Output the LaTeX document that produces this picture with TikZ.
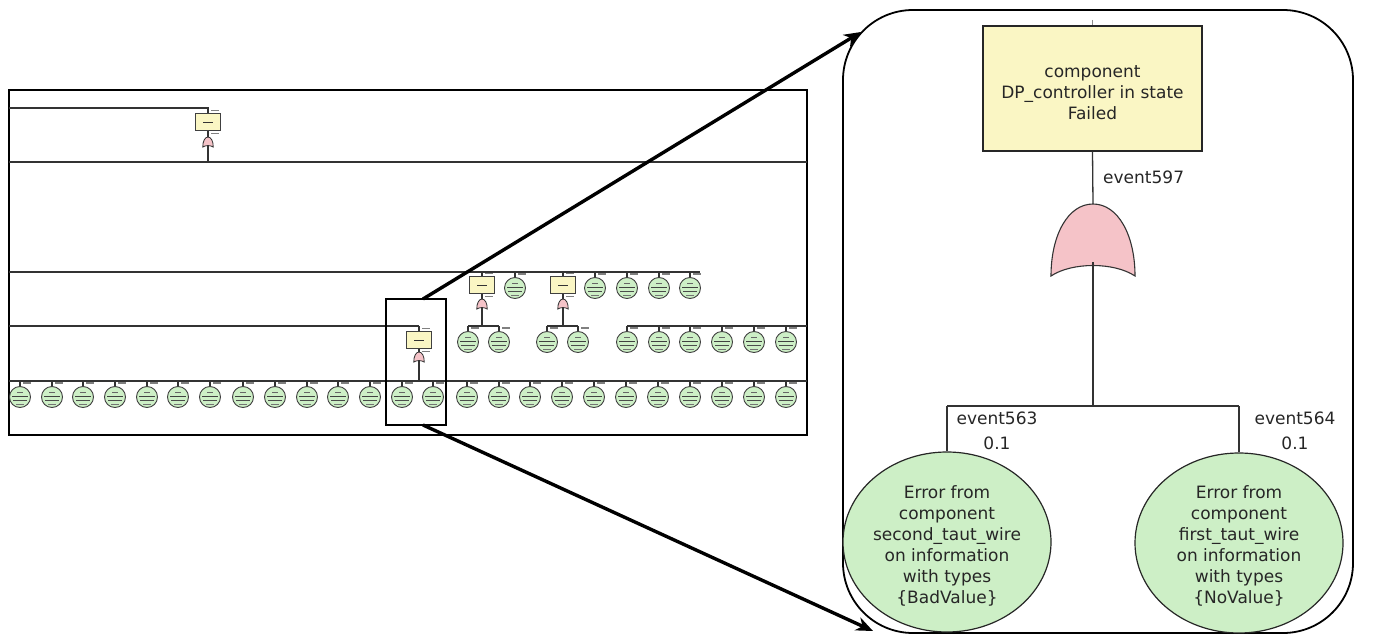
\documentclass[tikz,border=0pt]{standalone}
\usepackage{fontspec}
\setmainfont{DejaVu Sans}
\usetikzlibrary{shapes.geometric,arrows.meta,calc}

\definecolor{evgreen}{HTML}{CDEFC6}
\definecolor{topyellow}{HTML}{FAF6C4}
\definecolor{gatepink}{HTML}{F5C3C8}
\definecolor{wire}{HTML}{333333}

\tikzset{
  wireline/.style={draw=wire, line width=1.3},
  frame/.style={draw=black, line width=2.2},
  tag/.style={draw=black!50, line width=1.2},
  evsmall/.style={circle, draw=black!75, line width=0.9, fill=evgreen,
    minimum size=21pt, inner sep=0pt,
    path picture={
      \draw[black!60, line width=0.6] ($(path picture bounding box.center)+(-3,-5)$) -- ++(6,0);
      \draw[black!75, line width=0.9] ($(path picture bounding box.center)+(-8,-1)$) -- ++(16,0);
      \draw[black!70, line width=0.8] ($(path picture bounding box.center)+(-7,3)$) -- ++(14,0);
      \draw[black!55, line width=0.7] ($(path picture bounding box.center)+(-4,7)$) -- ++(8,0);
    }},
  topsmall/.style={rectangle, draw=black!75, line width=0.9, fill=topyellow,
    minimum width=25pt, minimum height=17pt, inner sep=0pt,
    path picture={
      \draw[black!80, line width=0.9] ($(path picture bounding box.center)+(-5,0)$) -- ++(10,0);
    }},
  smallgate/.style={xscale=0.125, yscale=0.14, line width=0.8},
  bigtext/.style={text=black!85, font=\fontsize{17}{21}\selectfont, align=center, inner sep=0pt},
  toptext/.style={text=black!85, font=\fontsize{17}{21}\selectfont, inner sep=0pt},
  topbig/.style={rectangle, draw=black!85, line width=1.2, fill=topyellow,
    minimum width=219pt, minimum height=125pt, inner sep=0pt},
  evbig/.style={ellipse, draw=black!85, line width=1.2, fill=evgreen,
    minimum width=208pt, minimum height=180pt, inner sep=0pt},
  zoomarrow/.style={draw=black, line width=3.4, -{Stealth[length=17pt, width=14pt]}},
  orgate/.pic={
    \filldraw[fill=gatepink, draw=black!80]
      (-42,72) .. controls (-42,31) and (-25,0) .. (0,0)
      .. controls (25,0) and (42,31) .. (42,72)
      .. controls (21,58) and (-21,58) .. (-42,72) -- cycle;
  }
}

\begin{document}
\begin{tikzpicture}[x=1pt,y=-1pt]
\useasboundingbox (0,0) rectangle (1376,634);

% ---------------- overview of the whole tree ----------------
\draw[frame] (9,90) rectangle (807,435);

% level 1: top event with its gate
\coordinate (r1a) at (9,108);
\coordinate (r1b) at (208,108);
\node[topsmall] (b1) at (208,122) {};
\coordinate (g1t) at (208,137);
\coordinate (g1b) at (208,145);
\coordinate (l2a) at (9,162);
\coordinate (l2b) at (807,162);
\coordinate (l2g) at (208,162);
\pic[smallgate] at (g1t) {orgate};
\draw[wireline] (r1a) -- (r1b) -- (b1.north);
\draw[wireline] (b1.south) -- (g1t);
\draw[wireline] (g1b) -- (l2g);
\draw[wireline] (l2a) -- (l2b);
\draw[tag] ($(b1.north)+(3,-2.5)$) -- ++(8,0);
\draw[tag] ($(b1.south)+(3,2.5)$) -- ++(8,0);

% level 2 row
\coordinate (r2a) at (9,272);
\coordinate (r2b) at (700,272);
\draw[wireline] (r2a) -- (r2b);
\foreach \n/\x in {a/482, b/563} {
  \node[topsmall] (b2\n) at (\x,285) {};
  \coordinate (r2t\n) at (\x,272);
  \coordinate (g2\n t) at (\x,299);
  \coordinate (g2\n b) at (\x,307);
  \coordinate (g2\n j) at (\x,326);
  \pic[smallgate] at (g2\n t) {orgate};
  \draw[wireline] (r2t\n) -- (b2\n.north);
  \draw[wireline] (b2\n.south) -- (g2\n t);
  \draw[wireline] (g2\n b) -- (g2\n j);
  \draw[tag] ($(b2\n.north)+(3,-2.5)$) -- ++(8,0);
  \draw[tag] ($(b2\n.south)+(3,2.5)$) -- ++(8,0);
}
\foreach \i/\x in {1/515, 2/595, 3/627, 4/659, 5/690} {
  \node[evsmall] (c2\i) at (\x,288) {};
  \coordinate (r2c\i) at (\x,272);
  \draw[wireline] (r2c\i) -- (c2\i.north);
  \draw[tag] ($(r2c\i)+(3,2)$) -- ++(8,0);
}

% level 3 row
\coordinate (r3a) at (9,326);
\coordinate (r3b) at (419,326);
\coordinate (r3c) at (627,326);
\coordinate (r3d) at (807,326);
\draw[wireline] (r3a) -- (r3b);
\draw[wireline] (r3c) -- (r3d);
\node[topsmall] (b3) at (419,340) {};
\coordinate (g3t) at (419,352);
\coordinate (g3b) at (419,360);
\coordinate (g3j) at (419,381);
\pic[smallgate] at (g3t) {orgate};
\draw[wireline] (r3b) -- (b3.north);
\draw[wireline] (b3.south) -- (g3t);
\draw[wireline] (g3b) -- (g3j);
\draw[tag] ($(b3.north)+(3,-2.5)$) -- ++(8,0);
\draw[tag] ($(b3.south)+(3,2.5)$) -- ++(8,0);
% children of the two level-2 gates
\draw[wireline] (468,326) coordinate (k1) -- (499,326) coordinate (k2);
\draw[wireline] (547,326) coordinate (k3) -- (578,326) coordinate (k4);
\foreach \i/\x in {1/468, 2/499, 3/547, 4/578, 5/627, 6/659, 7/690, 8/722, 9/754, 10/786} {
  \node[evsmall] (c3\i) at (\x,342) {};
  \coordinate (r3c\i) at (\x,326);
  \draw[wireline] (r3c\i) -- (c3\i.north);
  \draw[tag] ($(r3c\i)+(3,2)$) -- ++(8,0);
}

% level 4 row
\coordinate (r4a) at (9,381);
\coordinate (r4b) at (807,381);
\draw[wireline] (r4a) -- (r4b);
\foreach \i/\x in {1/20, 2/52, 3/83, 4/115, 5/147, 6/178, 7/210, 8/243, 9/275,
                   10/307, 11/338, 12/370, 13/402, 14/433, 15/467, 16/499, 17/530,
                   18/562, 19/594, 20/626, 21/658, 22/690, 23/722, 24/754, 25/786} {
  \node[evsmall] (c4\i) at (\x,397) {};
  \coordinate (r4c\i) at (\x,381);
  \draw[wireline] (r4c\i) -- (c4\i.north);
  \draw[tag] ($(r4c\i)+(3,2)$) -- ++(8,0);
}

% zoomed region marker and arrows
\draw[line width=2.2] (386,299) rectangle (446,425);
\coordinate (a1s) at (423,299);
\coordinate (a1e) at (861,32);
\coordinate (a2s) at (423,425);
\coordinate (a2e) at (873,631);

% ---------------- enlarged detail ----------------
\draw[line width=1.8, rounded corners=70pt] (843,10) rectangle (1353,633);
\draw[zoomarrow] (a1s) -- (a1e);
\draw[zoomarrow] (a2s) -- (a2e);

\node[topbig] (dpc) at (1092.5,88.5) {};
\node[bigtext] (dpctext) at (1092.5,93) {component\\DP\_controller in state\\Failed};
\coordinate (dpcstub) at (1092.5,20);
\draw[draw=black!45, line width=1] (dpcstub) -- (dpc.north);

\coordinate (gt) at (1093,204);
\coordinate (gb) at (1093,262);
\coordinate (jn) at (1093,406);
\pic[line width=1.1] at (gt) {orgate};
\draw[wireline] (dpc.south) -- (gt);
\draw[wireline] (gb) -- (jn);
\node[toptext, anchor=west] (ev597) at (1103,177) {event597};

\node[evbig] (e563) at (947,542) {};
\node[evbig] (e564) at (1239,543) {};
\node[bigtext] (t563) at (947,546) {Error from\\component\\second\_taut\_wire\\on information\\with types\\\{BadValue\}};
\node[bigtext] (t564) at (1239,546) {Error from\\component\\first\_taut\_wire\\on information\\with types\\\{NoValue\}};

\draw[wireline] (e563.north |- jn) -- (e564.north |- jn);
\draw[wireline] (e563.north |- jn) -- (e563.north);
\draw[wireline] (e564.north |- jn) -- (e564.north);

\node[toptext] (ev563) at (997,418) {event563};
\node[toptext] (p563) at (997,443) {0.1};
\node[toptext] (ev564) at (1295,418) {event564};
\node[toptext] (p564) at (1295,443) {0.1};
\end{tikzpicture}
\end{document}
